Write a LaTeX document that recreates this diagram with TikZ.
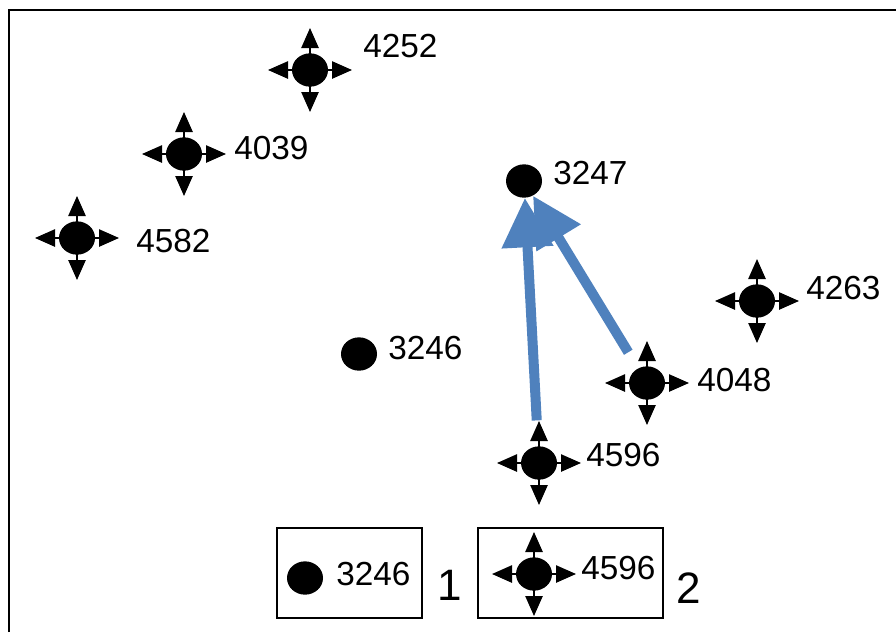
\documentclass[tikz,border=0pt]{standalone}
\usepackage{fontspec}
\setmainfont{Liberation Sans}
\usetikzlibrary{arrows.meta,shapes.geometric}
\definecolor{arrowblue}{RGB}{79,129,189}
\tikzset{
  dot/.style={ellipse,fill=black,inner sep=0pt,minimum width=27pt,minimum height=25pt},
  idlabel/.style={anchor=west,inner sep=0pt,font=\fontsize{25}{30}\selectfont},
  legnum/.style={inner sep=0pt,font=\fontsize{33}{40}\selectfont},
  movearrow/.style={line width=1.1pt,-{Triangle[length=15pt,width=13pt]}},
  trackarrow/.style={arrowblue,line width=7.5pt,-{Triangle[length=37pt,width=37pt]}},
}
\begin{document}
\begin{tikzpicture}[x=0.75pt,y=0.75pt,yscale=-1,xscale=1]
    \useasboundingbox (0,0) rectangle (896,632);

    %frame
    \draw[line width=1.6pt] (9,632) -- (9,10) -- (896,10);

    %moving points
    \node[dot] (p4252) at (310,70) {};
    \node[dot] (p4039) at (184,154) {};
    \node[dot] (p4582) at (77,238) {};
    \node[dot] (p4263) at (757,301) {};
    \node[dot] (p4048) at (647,383) {};
    \node[dot] (p4596) at (539,463) {};
    %still points
    \node[dot] (p3247) at (524,181) {};
    \node[dot] (p3246) at (359,354) {};

    %legend
    \draw[line width=1.1pt] (277,528) rectangle (422,618);
    \draw[line width=1.1pt] (478,528) rectangle (663,618);
    \node[dot] (l3246) at (305,578) {};
    \node[dot] (l4596) at (534,574) {};

    \foreach \n in {p4252,p4039,p4582,p4263,p4048,p4596,l4596}
      \foreach \a in {0,90,180,270}
        \draw[movearrow] (\n.center) -- ++(\a:42);

    %tracks
    \draw[trackarrow,shorten <=32pt] (p4596.center) -- (p3247);
    \draw[trackarrow,shorten <=27pt] (p4048.center) -- (p3247);

    % Text Node
    \node[idlabel] (t4252) at (363,46) {4252};
    \node[idlabel] (t4039) at (234,148) {4039};
    \node[idlabel] (t4582) at (136,241) {4582};
    \node[idlabel] (t3247) at (553,173) {3247};
    \node[idlabel] (t4263) at (806,288) {4263};
    \node[idlabel] (t3246) at (388,348) {3246};
    \node[idlabel] (t4048) at (697,380) {4048};
    \node[idlabel] (t4596) at (586,455) {4596};
    \node[idlabel] (tl3246) at (336,574) {3246};
    \node[idlabel] (tl4596) at (581,568) {4596};
    \node[legnum] (n1) at (450,585) {1};
    \node[legnum] (n2) at (689,588) {2};

\end{tikzpicture}
\end{document}
